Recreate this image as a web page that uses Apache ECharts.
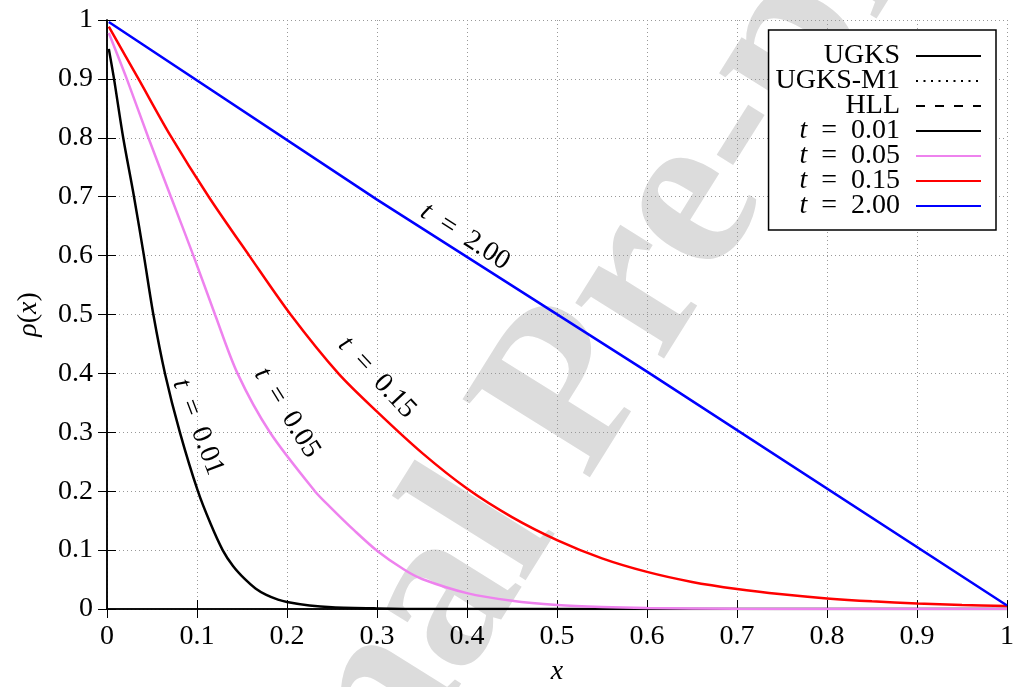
<!DOCTYPE html>
<html>
<head>
<meta charset="utf-8">
<script src="https://cdn.jsdelivr.net/npm/echarts@6/dist/echarts.min.js"></script>
<style>
html,body{margin:0;padding:0;background:#fff;}
#chart{width:1014px;height:687px;}
</style>
</head>
<body>
<div id="chart"></div>
<script>
// ---- data ----
var xTicks = [0, 0.1, 0.2, 0.3, 0.4, 0.5, 0.6, 0.7, 0.8, 0.9, 1];
var yTicks = [0, 0.1, 0.2, 0.3, 0.4, 0.5, 0.6, 0.7, 0.8, 0.9, 1];

var legendNames = ['UGKS', 'UGKS-M1', 'HLL', 't = 0.01', 't = 0.05', 't = 0.15', 't = 2.00'];

var x001 = [0.002, 0.0078, 0.018, 0.030, 0.041, 0.0515, 0.0644, 0.081, 0.101, 0.115, 0.1285, 0.14, 0.153, 0.165, 0.177, 0.19, 0.2, 0.225, 0.25, 0.3, 0.35, 0.5, 0.7, 1.0];
var y001 = [0.951, 0.90, 0.80, 0.70, 0.60, 0.50, 0.40, 0.30, 0.20, 0.145, 0.10, 0.073, 0.051, 0.035, 0.024, 0.016, 0.012, 0.006, 0.003, 0.001, 0, 0, 0, 0];

var x005 = [0.002, 0.022, 0.046, 0.071, 0.096, 0.12, 0.145, 0.181, 0.231, 0.248, 0.275, 0.3, 0.33, 0.35, 0.4, 0.45, 0.5, 0.55, 0.6, 0.7, 0.8, 1.0];
var y005 = [0.978, 0.90, 0.80, 0.70, 0.60, 0.50, 0.40, 0.30, 0.20, 0.173, 0.133, 0.099, 0.067, 0.051, 0.027, 0.014, 0.0068, 0.0033, 0.0016, 0.0004, 0.0001, 0];

var x015 = [0.002, 0.035, 0.07, 0.113, 0.158, 0.204, 0.257, 0.3, 0.35, 0.4, 0.45, 0.5, 0.55, 0.6, 0.65, 0.7, 0.75, 0.8, 0.85, 0.9, 0.95, 1.0];
var y015 = [0.9886, 0.90, 0.805, 0.70, 0.60, 0.50, 0.40, 0.335, 0.265, 0.2045, 0.156, 0.117, 0.086, 0.063, 0.046, 0.034, 0.025, 0.018, 0.013, 0.0095, 0.007, 0.005];

var x200 = [0.002, 0.3, 0.6, 1.0];
var y200 = [0.9965, 0.695, 0.403, 0.006];

// curve annotations: [x, y, text, angle]
var annotations = [
  [0.101, 0.309, 't = 0.01', -69],
  [0.200, 0.333, 't = 0.05', -58],
  [0.300, 0.393, 't = 0.15', -47],
  [0.398, 0.632, 't = 2.00', -33]
];

function pairs(xs, ys) {
  var out = [];
  for (var i = 0; i < xs.length; i++) out.push([xs[i], ys[i]]);
  return out;
}

var FONT = 'Liberation Serif';
var FS = 28;

var richMath = {
  i: { fontFamily: FONT, fontStyle: 'italic', fontSize: FS, color: '#000' },
  n: { fontFamily: FONT, fontSize: FS, color: '#000' }
};

function mathLabel(s) {
  return '{i|t}{n|  =  ' + s.split('= ')[1] + '}';
}

function annotationPoint(a) {
  return {
    coord: [a[0], a[1]],
    symbol: 'circle',
    symbolSize: 0,
    label: {
      show: true,
      position: 'inside',
      rotate: a[3],
      formatter: mathLabel(a[2]),
      rich: richMath
    }
  };
}

var colors = { t001: '#000000', t005: '#ee82ee', t015: '#ff0000', t200: '#0000ff' };
var noSymbol = { color: 'rgba(0,0,0,0)', borderWidth: 0 };

var chart = echarts.init(document.getElementById('chart'), null, { renderer: 'canvas' });

var axisLabelStyle = { fontFamily: FONT, fontSize: FS, color: '#000' };

function tickFmt(v) { return String(+v.toFixed(1)); }

var option = {
  animation: false,
  backgroundColor: '#fff',
  graphic: [{
    type: 'text',
    z: -20,
    x: 570,
    y: 398,
    rotation: 58 * Math.PI / 180,
    style: {
      text: 'Journal Pre-proof',
      font: 'bold 228px "Liberation Serif"',
      fill: '#dcdcdc',
      align: 'center',
      verticalAlign: 'middle'
    },
    silent: true
  }],
  grid: { left: 107, right: 7, top: 20, bottom: 78, containLabel: false, outerBoundsMode: 'none' },
  legend: {
    orient: 'vertical',
    right: 18,
    top: 30,
    align: 'right',
    itemWidth: 65,
    itemHeight: 14,
    itemGap: -3,
    padding: [12, 14, 10, 7],
    backgroundColor: '#fff',
    borderColor: '#000',
    borderWidth: 1.5,
    borderRadius: 0,
    data: legendNames,
    itemStyle: { color: 'rgba(0,0,0,0)', borderWidth: 0 },
    textStyle: {
      fontFamily: FONT,
      fontSize: FS,
      color: '#000',
      padding: [0, 11, 0, 0],
      rich: richMath
    },
    formatter: function (name) {
      if (name.indexOf('t = ') === 0) return mathLabel(name);
      return '{n|' + name + '}';
    },
    selectedMode: false
  },
  xAxis: [{
    type: 'value',
    min: 0, max: 1, interval: 0.1,
    position: 'bottom',
    name: 'x',
    nameLocation: 'middle',
    nameGap: 49,
    nameTextStyle: { fontFamily: FONT, fontStyle: 'italic', fontSize: FS, color: '#000' },
    axisLine: { show: true, lineStyle: { color: '#000', width: 1.5 } },
    axisTick: { show: true, inside: true, length: 9, lineStyle: { color: '#000', width: 1 } },
    axisLabel: Object.assign({ margin: 14, formatter: tickFmt }, axisLabelStyle),
    splitLine: { show: true, lineStyle: { color: '#999', width: 1, type: [1, 3] } }
  }, {
    type: 'value',
    min: 0, max: 1, interval: 0.1,
    position: 'top',
    axisLine: { show: true, lineStyle: { color: '#000', width: 1.5 } },
    axisTick: { show: true, inside: true, length: 9, lineStyle: { color: '#000', width: 1 } },
    axisLabel: { show: false },
    splitLine: { show: false }
  }],
  yAxis: [{
    type: 'value',
    min: 0, max: 1, interval: 0.1,
    position: 'left',
    name: '{i|ρ}{n|(}{i|x}{n|)}',
    nameLocation: 'middle',
    nameGap: 64,
    nameRotate: 90,
    nameTextStyle: { rich: richMath },
    axisLine: { show: true, lineStyle: { color: '#000', width: 1.5 } },
    axisTick: { show: true, inside: true, length: 9, lineStyle: { color: '#000', width: 1 } },
    axisLabel: Object.assign({ margin: 14, formatter: tickFmt }, axisLabelStyle),
    splitLine: { show: true, lineStyle: { color: '#999', width: 1, type: [1, 3] } }
  }, {
    type: 'value',
    min: 0, max: 1, interval: 0.1,
    position: 'right',
    axisLine: { show: true, lineStyle: { color: '#000', width: 1.5 } },
    axisTick: { show: true, inside: true, length: 9, lineStyle: { color: '#000', width: 1 } },
    axisLabel: { show: false },
    splitLine: { show: false }
  }],
  series: [
    { name: 'UGKS', type: 'line', data: [], symbol: 'none', itemStyle: noSymbol, lineStyle: { color: '#000', width: 2.5 } },
    { name: 'UGKS-M1', type: 'line', data: [], symbol: 'none', itemStyle: noSymbol, lineStyle: { color: '#000', width: 2, type: [2, 5.5] } },
    { name: 'HLL', type: 'line', data: [], symbol: 'none', itemStyle: noSymbol, lineStyle: { color: '#000', width: 2.5, type: [9, 10] } },
    { name: 't = 0.01', type: 'line', data: pairs(x001, y001), symbol: 'none', smooth: 0.3, itemStyle: noSymbol,
      lineStyle: { color: colors.t001, width: 2.5 }, markPoint: { silent: true, data: [annotationPoint(annotations[0])] } },
    { name: 't = 0.05', type: 'line', data: pairs(x005, y005), symbol: 'none', smooth: 0.3, itemStyle: noSymbol,
      lineStyle: { color: colors.t005, width: 2.5 }, markPoint: { silent: true, data: [annotationPoint(annotations[1])] } },
    { name: 't = 0.15', type: 'line', data: pairs(x015, y015), symbol: 'none', smooth: 0.3, itemStyle: noSymbol,
      lineStyle: { color: colors.t015, width: 2.5 }, markPoint: { silent: true, data: [annotationPoint(annotations[2])] } },
    { name: 't = 2.00', type: 'line', data: pairs(x200, y200), symbol: 'none', itemStyle: noSymbol,
      lineStyle: { color: colors.t200, width: 2.5 }, markPoint: { silent: true, data: [annotationPoint(annotations[3])] } }
  ]
};

chart.setOption(option);
</script>
</body>
</html>
